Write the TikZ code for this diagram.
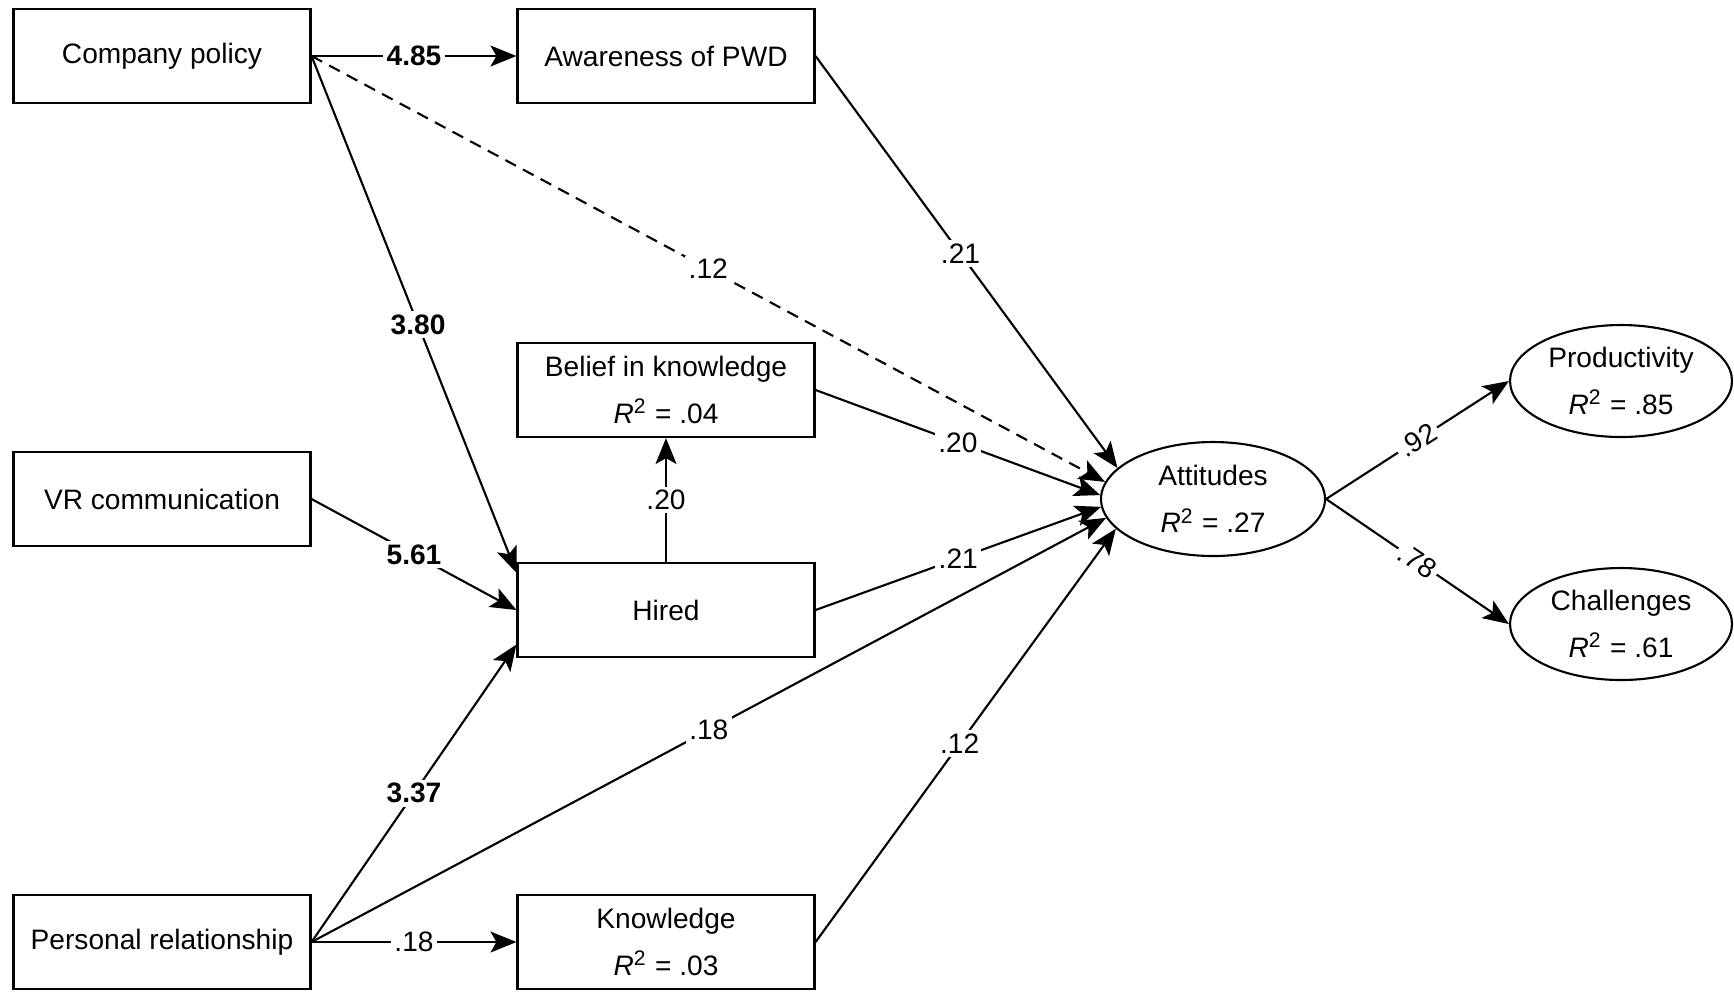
\documentclass[tikz,border=0pt]{standalone}
\usepackage{fontspec}
\setmainfont{Liberation Sans}
\usetikzlibrary{arrows.meta, shapes.geometric, positioning}
\newcommand{\rtwo}{\textit{R}\textsuperscript{2}}

\begin{document}
\begin{tikzpicture}[x=0.1mm, y=-0.1mm, line width=0.6pt,
    font=\fontsize{8}{13.5}\selectfont,
    var/.style={draw, rectangle, minimum width=29.7mm, minimum height=9.4mm, align=center, inner sep=0pt},
    lat/.style={draw, ellipse, minimum width=22.4mm, minimum height=11.4mm, align=center, inner sep=0pt},
    arr/.style={-{Stealth[length=2.6mm, width=2.1mm, inset=0.6mm]}},
    coef/.style={fill=white, inner sep=1pt},
    bcoef/.style={coef, font=\fontsize{8}{13.5}\selectfont\bfseries}]
  \useasboundingbox (0,0) rectangle (1734,991);
  % observed variables, left column
  \node[var] (policy)   at (162,56)  {Company policy};
  \node[var] (vr)       at (162,499) {VR communication};
  \node[var] (personal) at (162,942) {Personal relationship};
  % middle column
  \node[var] (aware)     at (666,56)  {Awareness of PWD};
  \node[var] (belief)    at (666,390) {Belief in knowledge\\\rtwo{} = .04};
  \node[var] (hired)     at (666,610) {Hired};
  \node[var] (knowledge) at (666,942) {Knowledge\\\rtwo{} = .03};
  % latent factors
  \node[lat] (attitudes) at (1213,499) {Attitudes\\\rtwo{} = .27};
  \node[lat, minimum width=22.2mm, minimum height=11.2mm] (product)   at (1621,381) {Productivity\\\rtwo{} = .85};
  \node[lat, minimum width=22.2mm, minimum height=11.2mm] (challenge) at (1621,624) {Challenges\\\rtwo{} = .61};

  % paths from the left column
  \draw[arr] (policy.east) -- node[bcoef] {4.85} (aware.west);
  \draw[arr] (policy.east) -- node[bcoef, pos=0.52] {3.80} (hired.166);
  \draw[arr, dash pattern=on 1.2mm off 0.8mm] (policy.east) -- node[coef] {.12} (attitudes.171);
  \draw[arr] (vr.east) -- node[bcoef] {5.61} (hired.west);
  \draw[arr] (personal.east) -- node[bcoef] {3.37} (hired.193);
  \draw[arr] (personal.east) -- node[coef] {.18} (attitudes.190);
  \draw[arr] (personal.east) -- node[coef] {.18} (knowledge.west);

  % paths into attitudes
  \draw[arr] (aware.east) -- node[coef, pos=0.48] {.21} (attitudes.162);
  \draw[arr] (belief.east) -- node[coef] {.20} (attitudes.178);
  \draw[arr] (hired.north) -- node[coef] {.20} (belief.south);
  \draw[arr] (hired.east) -- node[coef] {.21} (attitudes.184);
  \draw[arr] (knowledge.east) -- node[coef, pos=0.48] {.12} (attitudes.197);

  % outcomes
  \draw[arr] (attitudes.east) -- node[coef, sloped] {.92} (product.west);
  \draw[arr] (attitudes.east) -- node[coef, sloped] {.78} (challenge.west);
\end{tikzpicture}
\end{document}
